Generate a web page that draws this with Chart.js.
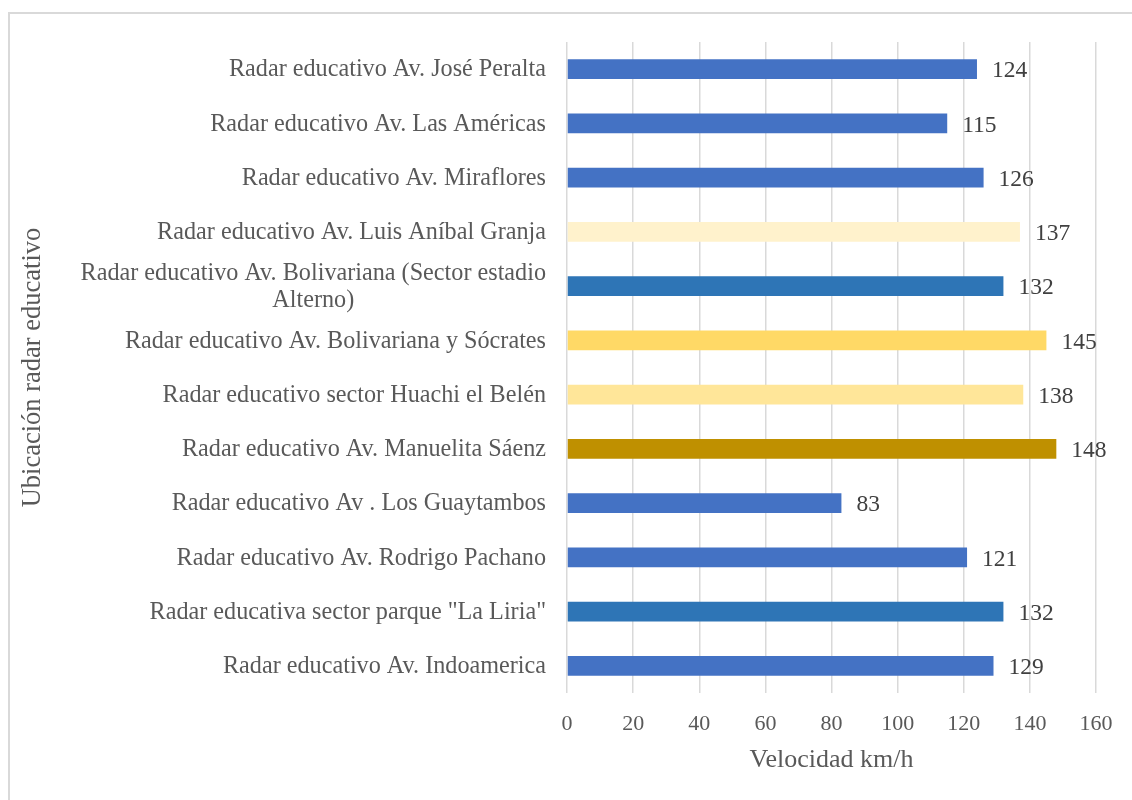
<!DOCTYPE html>
<html>
<head>
<meta charset="utf-8">
<title>Velocidad por radar educativo</title>
<script src="https://cdn.jsdelivr.net/npm/chart.js@4.4.1/dist/chart.umd.min.js"></script>
<style>
  html, body { margin: 0; padding: 0; background: #ffffff; width: 1132px; height: 800px; overflow: hidden; }
  #frame { position: absolute; left: 8px; top: 12px; width: 1300px; height: 1000px; border: 2px solid #d9d9d9; box-sizing: border-box; }
  #chart { position: absolute; left: 0; top: 0; }
</style>
</head>
<body>
<div id="frame"></div>
<canvas id="chart" width="1132" height="800"></canvas>
<script>
// Radar locations, listed top to bottom
const categories = [
  'Radar educativo Av. José Peralta',
  'Radar educativo Av. Las Américas',
  'Radar educativo Av. Miraflores',
  'Radar educativo Av. Luis Aníbal Granja',
  ['Radar educativo Av. Bolivariana (Sector estadio', 'Alterno)'],
  'Radar educativo Av. Bolivariana y Sócrates',
  'Radar educativo sector Huachi el Belén',
  'Radar educativo Av. Manuelita Sáenz',
  'Radar educativo Av . Los Guaytambos',
  'Radar educativo Av. Rodrigo Pachano',
  'Radar educativa sector parque "La Liria"',
  'Radar educativo Av. Indoamerica'
];

// Recorded speed (km/h) for each location
const speeds = [124, 115, 126, 137, 132, 145, 138, 148, 83, 121, 132, 129];

const barColors = [
  '#4472C4', '#4472C4', '#4472C4', '#FFF2CC', '#2E75B6', '#FFD966',
  '#FFE699', '#BF9000', '#4472C4', '#4472C4', '#2E75B6', '#4472C4'
];

// Speed axis ticks
const speedTicks = [0, 20, 40, 60, 80, 100, 120, 140, 160];

const SERIF = '"Liberation Serif", "Times New Roman", serif';
const TEXT_GREY = '#595959';

// Category labels: right-aligned block, wrapped lines centred within it
const categoryLabels = {
  id: 'categoryLabels',
  afterDraw(chart) {
    const ctx = chart.ctx;
    const yScale = chart.scales.y;
    const right = chart.chartArea.left - 21;
    const lineH = 27;
    ctx.save();
    ctx.font = '24.2px ' + SERIF;
    ctx.fillStyle = TEXT_GREY;
    ctx.textAlign = 'center';
    ctx.textBaseline = 'middle';
    categories.forEach((label, i) => {
      const lines = Array.isArray(label) ? label : [label];
      const w = Math.max(...lines.map(l => ctx.measureText(l).width));
      const cx = right - w / 2;
      const cy = yScale.getPixelForTick(i) + 1;
      lines.forEach((l, j) => {
        ctx.fillText(l, cx, cy + (j - (lines.length - 1) / 2) * lineH);
      });
    });
    ctx.restore();
  }
};

// Value written just past the end of each bar
const valueLabels = {
  id: 'valueLabels',
  afterDatasetsDraw(chart) {
    const ctx = chart.ctx;
    const meta = chart.getDatasetMeta(0);
    ctx.save();
    ctx.font = '23.5px ' + SERIF;
    ctx.fillStyle = '#404040';
    ctx.textAlign = 'left';
    ctx.textBaseline = 'middle';
    meta.data.forEach((bar, i) => {
      ctx.fillText(String(speeds[i]), bar.x + 15, bar.y + 2);
    });
    ctx.restore();
  }
};

new Chart(document.getElementById('chart'), {
  type: 'bar',
  data: {
    labels: categories,
    datasets: [{
      data: speeds,
      backgroundColor: barColors,
      borderWidth: 0,
      categoryPercentage: 1,
      barPercentage: 0.365
    }]
  },
  options: {
    indexAxis: 'y',
    responsive: false,
    animation: false,
    devicePixelRatio: 1,
    layout: { padding: { top: 42, right: 36, bottom: 0, left: 0 } },
    plugins: {
      legend: { display: false },
      tooltip: { enabled: false }
    },
    scales: {
      x: {
        type: 'linear',
        min: speedTicks[0],
        max: speedTicks[speedTicks.length - 1],
        afterBuildTicks(scale) {
          scale.ticks = speedTicks.map(v => ({ value: v }));
        },
        afterFit(scale) { scale.height = 107; },
        grid: { color: '#d9d9d9', lineWidth: 1.5, drawTicks: false },
        border: { display: false },
        ticks: {
          font: { family: SERIF, size: 22 },
          color: TEXT_GREY,
          padding: 18,
          maxRotation: 0
        },
        title: {
          display: true,
          text: 'Velocidad km/h',
          font: { family: SERIF, size: 26 },
          color: TEXT_GREY,
          padding: { top: 0, bottom: 24 }
        }
      },
      y: {
        afterFit(scale) { scale.width = 567; },
        grid: { display: false, drawTicks: false },
        border: { display: false },
        ticks: { display: false },
        title: {
          display: true,
          text: 'Ubicación radar educativo',
          font: { family: SERIF, size: 26.5 },
          color: TEXT_GREY,
          padding: { top: 17, bottom: 0 }
        }
      }
    }
  },
  plugins: [categoryLabels, valueLabels]
});
</script>
</body>
</html>
